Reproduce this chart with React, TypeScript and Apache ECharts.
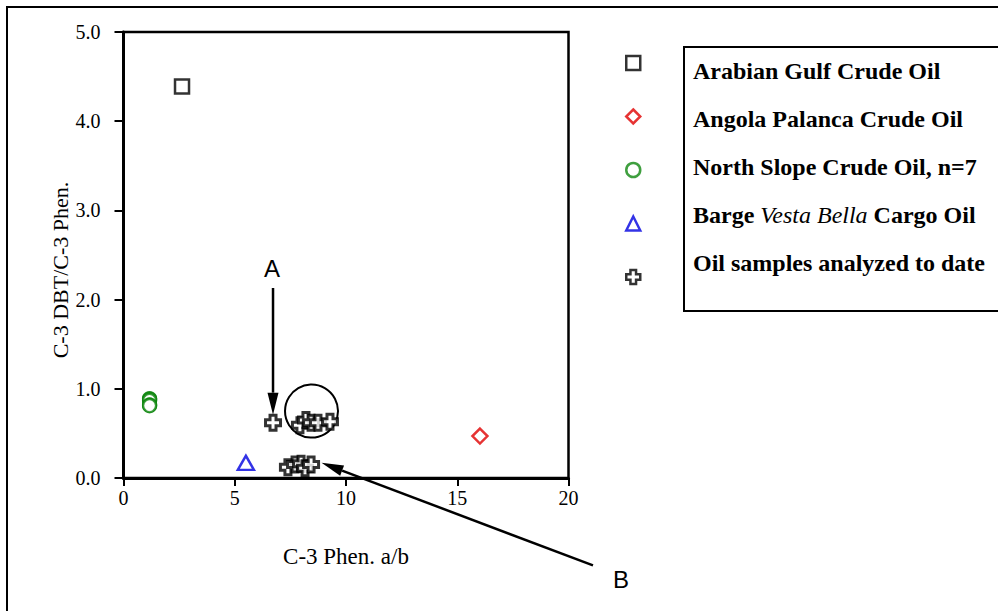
import React, { useEffect, useRef } from "react";
import * as echarts from "echarts";

// ---- data ----
const seriesNames = [
  "Arabian Gulf Crude Oil",
  "Angola Palanca Crude Oil",
  "North Slope Crude Oil, n=7",
  "Barge Vesta Bella Cargo Oil",
  "Oil samples analyzed to date",
];
const arabianGulf = [[2.63, 4.39]];
const angolaPalanca = [[16.02, 0.47]];
const northSlope = [
  [1.17, 0.89],
  [1.17, 0.885],
  [1.18, 0.88],
  [1.17, 0.87],
  [1.17, 0.82],
  [1.18, 0.815],
  [1.17, 0.81],
];
const vestaBella = [[5.5, 0.17]];
const oilSamples = [
  [6.72, 0.62],
  [7.93, 0.59],
  [8.2, 0.65],
  [8.43, 0.62],
  [8.74, 0.62],
  [9.28, 0.63],
  [7.39, 0.12],
  [7.71, 0.15],
  [7.98, 0.16],
  [8.16, 0.11],
  [8.43, 0.15],
];
const xTicks = [0, 5, 10, 15, 20];
const yTicks = [0, 1, 2, 3, 4, 5];

// annotations (data coordinates)
const noteCircleCenter = [8.45, 0.75];
const arrowA = { from: [6.72, 2.13], to: [6.72, 0.71], label: "A", labelAt: [6.67, 2.35] };
const arrowB = { from: [21.1, -0.98], to: [8.9, 0.17], label: "B", labelAt: [22.36, -1.14] };

const CROSS = "path://M3,0H7V3H10V7H7V10H3V7H0V3H3Z";
const SERIF = "'Liberation Serif', 'Times New Roman', serif";

export default function App() {
  const ref = useRef<HTMLDivElement>(null);
  useEffect(() => {
    if (!ref.current) return;
    const chart = echarts.init(ref.current, null, { renderer: "svg" });
    const hollow = (c: string, w = 2.5) => ({ color: "#ffffff", borderColor: c, borderWidth: w });
    const option: any = {
      animation: false,
      backgroundColor: "#ffffff",
      grid: {
        left: 123.5,
        right: 429.5,
        top: 32,
        bottom: 133,
        show: true,
        borderColor: "#000",
        borderWidth: 2.5,
        backgroundColor: "transparent",
      },
      xAxis: {
        type: "value",
        min: xTicks[0],
        max: xTicks[xTicks.length - 1],
        interval: 5,
        name: "C-3 Phen. a/b",
        nameLocation: "middle",
        nameGap: 67,
        nameTextStyle: { fontFamily: SERIF, fontSize: 23, color: "#000" },
        axisLine: { show: true, onZero: false, lineStyle: { color: "#000", width: 3 } },
        axisTick: { show: true, length: 8, lineStyle: { color: "#000", width: 2 } },
        axisLabel: { fontFamily: SERIF, fontSize: 20, color: "#000", margin: 10 },
        splitLine: { show: false },
      },
      yAxis: {
        type: "value",
        min: yTicks[0],
        max: yTicks[yTicks.length - 1],
        interval: 1,
        name: "C-3 DBT/C-3 Phen.",
        nameLocation: "middle",
        nameRotate: 90,
        nameGap: 49,
        nameTextStyle: { fontFamily: SERIF, fontSize: 22, color: "#000", padding: [0, 30, 0, 0] },
        axisLine: { show: true, onZero: false, lineStyle: { color: "#000", width: 3 } },
        axisTick: { show: true, length: 9, lineStyle: { color: "#000", width: 2 } },
        axisLabel: {
          fontFamily: SERIF,
          fontSize: 20,
          color: "#000",
          margin: 23,
          formatter: (v: number) => v.toFixed(1),
        },
        splitLine: { show: false },
      },
      legend: [
        {
          data: seriesNames,
          orient: "vertical",
          left: 625,
          top: 54.75,
          padding: 0,
          itemWidth: 14,
          itemHeight: 14,
          itemGap: 37,
          selectedMode: false,
          formatter: () => "",
          textStyle: { fontSize: 1 },
          itemStyle: { borderWidth: 2.5 },
        },
        {
          data: seriesNames,
          orient: "vertical",
          left: 687,
          top: 58,
          padding: 0,
          icon: "rect",
          itemWidth: 1,
          itemHeight: 1,
          itemGap: 22,
          selectedMode: false,
          itemStyle: { color: "rgba(0,0,0,0)", borderWidth: 0, borderColor: "rgba(0,0,0,0)" },
          formatter: (name: string) =>
            name === "Barge Vesta Bella Cargo Oil" ? "Barge {i|Vesta Bella} Cargo Oil" : name,
          textStyle: {
            fontFamily: SERIF,
            fontSize: 24,
            lineHeight: 26,
            fontWeight: "bold",
            color: "#000",
            rich: {
              i: {
                fontFamily: SERIF,
                fontSize: 24,
                lineHeight: 26,
                fontStyle: "italic",
                fontWeight: "normal",
                color: "#000",
              },
            },
          },
        },
      ],
      series: [
        { name: seriesNames[0], type: "scatter", symbol: "rect", symbolSize: 14, data: arabianGulf, itemStyle: hollow("#000") },
        { name: seriesNames[1], type: "scatter", symbol: "diamond", symbolSize: 15, data: angolaPalanca, itemStyle: hollow("#e00000") },
        { name: seriesNames[2], type: "scatter", symbol: "circle", symbolSize: 13, data: northSlope, itemStyle: hollow("#0f870f", 2.2) },
        { name: seriesNames[3], type: "scatter", symbol: "triangle", symbolSize: [16, 14], data: vestaBella, itemStyle: hollow("#0000e0") },
        { name: seriesNames[4], type: "scatter", symbol: CROSS, symbolSize: 15, data: oilSamples, itemStyle: hollow("#000", 3) },
      ],
    };
    chart.setOption(option);

    const px = (p: number[]) => chart.convertToPixel({ gridIndex: 0 }, p) as number[];
    const arrow = (from: number[], to: number[], headLen: number, headW: number) => {
      const a = px(from);
      const b = px(to);
      const dx = b[0] - a[0];
      const dy = b[1] - a[1];
      const len = Math.sqrt(dx * dx + dy * dy);
      const ux = dx / len;
      const uy = dy / len;
      const bx = b[0] - ux * headLen;
      const by = b[1] - uy * headLen;
      return [
        { type: "line", shape: { x1: a[0], y1: a[1], x2: bx, y2: by }, style: { stroke: "#000", lineWidth: 2.5 }, silent: true },
        {
          type: "polygon",
          shape: {
            points: [
              [b[0], b[1]],
              [bx - uy * headW / 2, by + ux * headW / 2],
              [bx + uy * headW / 2, by - ux * headW / 2],
            ],
          },
          style: { fill: "#000" },
          silent: true,
        },
      ];
    };
    const cc = px(noteCircleCenter);
    const la = px(arrowA.labelAt);
    const lb = px(arrowB.labelAt);
    chart.setOption({
      graphic: [
        { type: "rect", shape: { x: 7, y: 7, width: 1200, height: 800 }, style: { fill: "none", stroke: "#000", lineWidth: 2 }, silent: true },
        { type: "rect", shape: { x: 684, y: 47, width: 500, height: 264 }, style: { fill: "none", stroke: "#000", lineWidth: 2 }, silent: true },
        { type: "circle", shape: { cx: cc[0], cy: cc[1], r: 26.5 }, style: { fill: "none", stroke: "#000", lineWidth: 2 }, silent: true },
        ...arrow(arrowA.from, arrowA.to, 22, 11),
        ...arrow(arrowB.from, arrowB.to, 22, 11),
        {
          type: "text",
          x: la[0],
          y: la[1],
          style: { text: arrowA.label, fontFamily: "'Liberation Sans', sans-serif", fontSize: 24, fill: "#000", align: "center", verticalAlign: "middle" },
        },
        {
          type: "text",
          x: lb[0],
          y: lb[1],
          style: { text: arrowB.label, fontFamily: "'Liberation Sans', sans-serif", fontSize: 24, fill: "#000", align: "center", verticalAlign: "middle" },
        },
      ],
    });
    return () => chart.dispose();
  }, []);
  return (
    <div
      ref={ref}
      style={{ position: "absolute", left: 0, top: 0, width: 998, height: 611, background: "#fff" }}
    />
  );
}
